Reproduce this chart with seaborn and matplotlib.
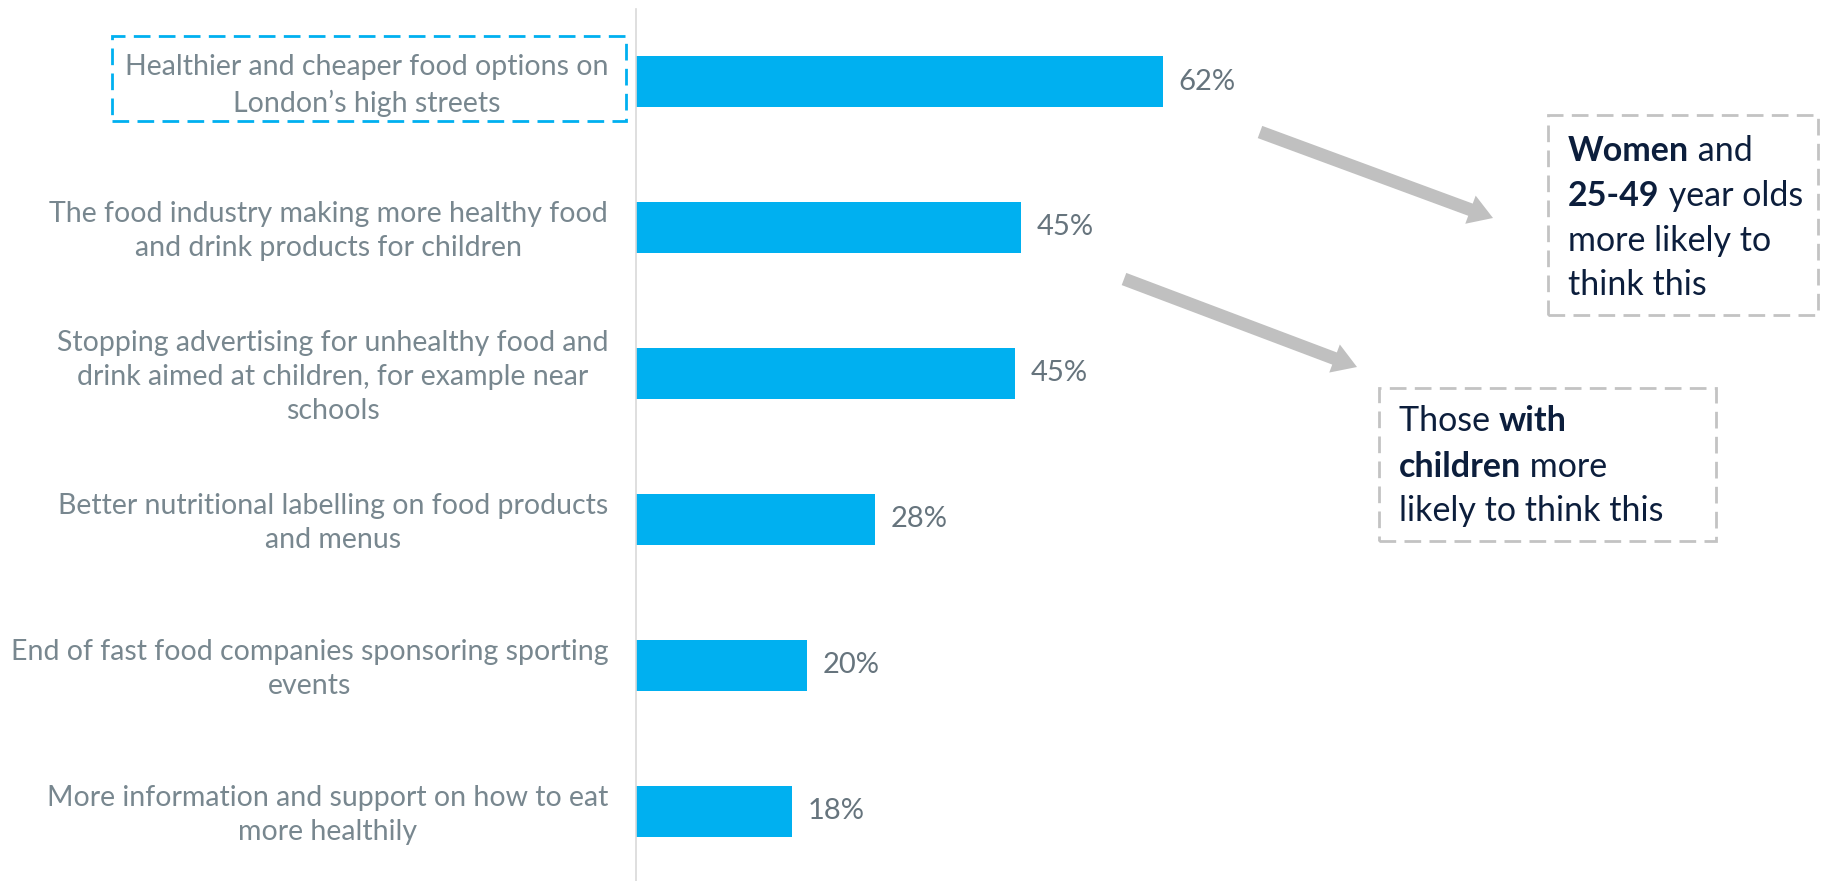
import matplotlib
matplotlib.use("Agg")
import matplotlib.pyplot as plt
import matplotlib.patches as mpatches
import matplotlib.transforms as mtransforms
import seaborn as sns
import pandas as pd

# ---- data ----
categories = [
    "Healthier and cheaper food options on\nLondon\u2019s high streets",
    "The food industry making more healthy food\nand drink products for children",
    "Stopping advertising for unhealthy food and\ndrink aimed at children, for example near\nschools",
    "Better nutritional labelling on food products\nand menus",
    "End of fast food companies sponsoring sporting\nevents",
    "More information and support on how to eat\nmore healthily",
]
values = [62, 45.3, 44.6, 28.1, 20.1, 18.4]
value_labels = ["62%", "45%", "45%", "28%", "20%", "18%"]

note1_lines = [[("Women", "bold"), (" and", "normal")],
               [("25-49", "bold"), (" year olds", "normal")],
               [("more likely to", "normal")],
               [("think this", "normal")]]
note2_lines = [[("Those ", "normal"), ("with", "bold")],
               [("children", "bold"), (" more", "normal")],
               [("likely to think this", "normal")]]

W, H = 1825, 881
BAR = "#00b0f0"
LABEL_C = "#78878f"
VAL_C = "#66747d"
NOTE_C = "#0c1e3c"
BOX_C = "#c3c3c3"
FONT = "Lato"

sns.set_theme(style="white")
plt.rcParams["font.family"] = [FONT, "DejaVu Sans"]

fig = plt.figure(figsize=(W / 100, H / 100), dpi=100)
ax_left = 636
ax = fig.add_axes([ax_left / W, 0, (W - ax_left) / W, 872 / H])

df = pd.DataFrame({"cat": categories, "val": values})
sns.barplot(data=df, x="val", y="cat", orient="h", color=BAR, width=0.35,
            saturation=1, linewidth=0, ax=ax)

px_per_unit = 527 / 62
ax.set_xlim(0, (W - ax_left) / px_per_unit)
ax.set_ylim(5.479, -0.497)
ax.set_xlabel("")
ax.set_ylabel("")
ax.set_xticks([])
for s in ["top", "right", "bottom"]:
    ax.spines[s].set_visible(False)
ax.spines["left"].set_color("#d9d9d9")
ax.spines["left"].set_linewidth(1.2)
ax.tick_params(axis="y", length=0, pad=20)
shift_up = mtransforms.ScaledTranslation(0, 3 / 100, fig.dpi_scale_trans)
for t in ax.get_yticklabels():
    t.set_fontsize(20.5)
    t.set_color(LABEL_C)
    t.set_multialignment("center")
    t.set_linespacing(1.4)
    t.set_transform(t.get_transform() + shift_up)

for i, (v, lab) in enumerate(zip(values, value_labels)):
    ax.annotate(lab, xy=(v, i), xytext=(11, 0), textcoords="offset points",
                va="center", ha="left", fontsize=21, color=VAL_C)


def fpx(x, y):
    return (x / 100, (H - y) / 100)


# highlight box around first label
hl = mpatches.Rectangle(fpx(112, 121), (626 - 112) / 100, (121 - 36) / 100,
                        transform=fig.dpi_scale_trans, fill=False,
                        edgecolor=BAR, linewidth=2, linestyle=(0, (6, 3)))
fig.add_artist(hl)

# note boxes
for (x0, y0, x1, y1) in [(1548, 115, 1818, 315), (1379, 388, 1716, 541)]:
    r = mpatches.Rectangle(fpx(x0, y1), (x1 - x0) / 100, (y1 - y0) / 100,
                           transform=fig.dpi_scale_trans, fill=False,
                           edgecolor=BOX_C, linewidth=2, linestyle=(0, (6, 3)))
    fig.add_artist(r)

# arrows
for (xa, ya, xb, yb) in [(1260, 132, 1493, 218), (1124, 279, 1357, 367)]:
    a = mpatches.FancyArrow(xa / 100, (H - ya) / 100, (xb - xa) / 100, -(yb - ya) / 100,
                            width=0.13, head_width=0.30, head_length=0.24,
                            length_includes_head=True, transform=fig.dpi_scale_trans,
                            color="#c0c0c0", linewidth=0)
    fig.add_artist(a)


def rich_line(x, y, pieces, size):
    prev = None
    for txt, wt in pieces:
        if prev is None:
            prev = fig.text(x / W, 1 - y / H, txt, fontsize=size, fontweight=wt,
                            color=NOTE_C, ha="left", va="center")
        else:
            prev = ax.annotate(txt, xy=(1, 0), xycoords=prev, ha="left", va="bottom",
                               fontsize=size, fontweight=wt, color=NOTE_C,
                               annotation_clip=False)


for y, pieces in zip([151, 196, 241, 285], note1_lines):
    rich_line(1568, y, pieces, 24.5)
for y, pieces in zip([421, 467, 511], note2_lines):
    rich_line(1399, y, pieces, 24.5)

fig.savefig("out.png", dpi=100, facecolor="white")
